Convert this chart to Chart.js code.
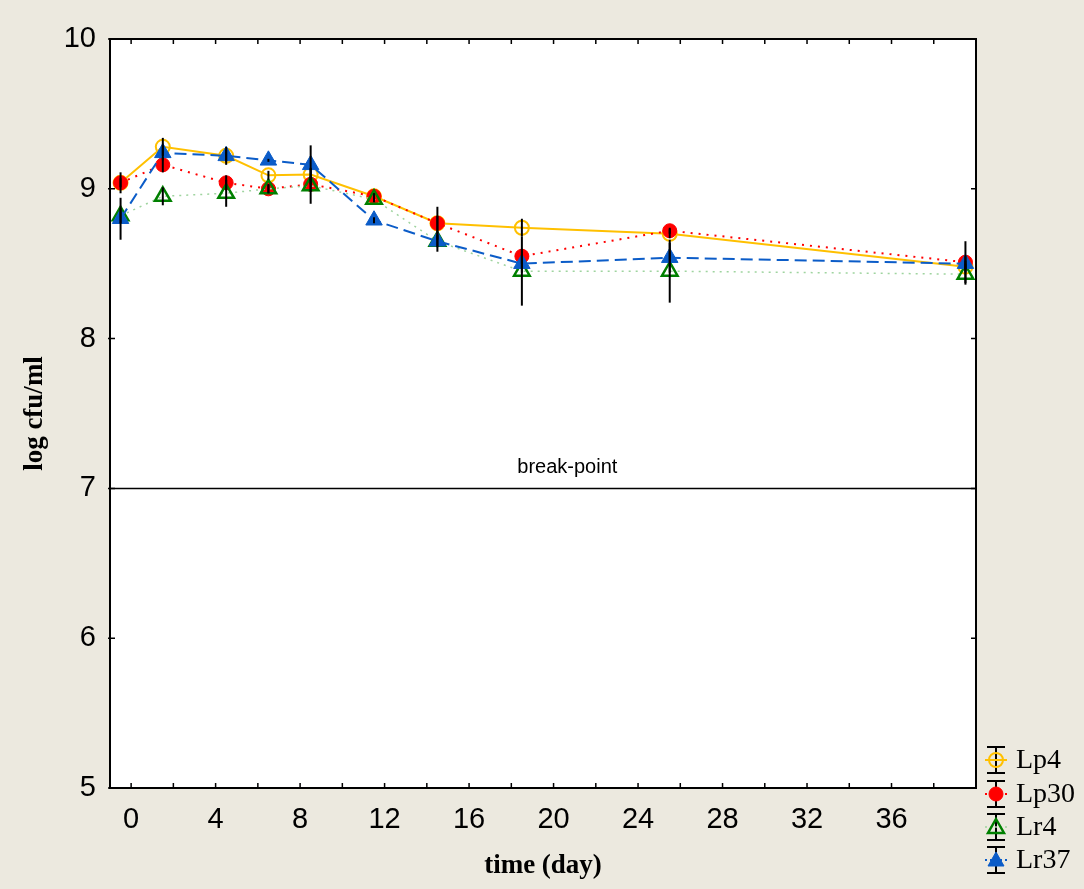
<!DOCTYPE html>
<html>
<head>
<meta charset="utf-8">
<script src="https://cdn.jsdelivr.net/npm/chart.js@4"></script>
<style>
  html, body { margin: 0; padding: 0; background: #ece9df; }
  #wrap { width: 1084px; height: 889px; position: relative; }
</style>
</head>
<body>
<div id="wrap"><canvas id="chart" width="1084" height="889"></canvas></div>
<script>
// data
const days = [-0.5, 1.5, 4.5, 6.5, 8.5, 11.5, 14.5, 18.5, 25.5, 39.5];
const lp4 = [9.04, 9.28, 9.22, 9.09, 9.095, 8.95, 8.77, 8.74, 8.70, 8.48];
const lp30 = [9.04, 9.16, 9.04, 9.00, 9.03, 8.95, 8.77, 8.55, 8.72, 8.51];
const lr4 = [8.82, 8.95, 8.97, 9.00, 9.02, 8.93, 8.65, 8.45, 8.45, 8.43];
const lr37 = [8.80, 9.24, 9.22, 9.19, 9.16, 8.79, 8.65, 8.50, 8.54, 8.50];

const errLp4 = [0.03, 0.06, 0.04, 0.03, 0.04, 0.02, 0.05, 0.06, 0.03, 0.04];
const errLp30 = [0.07, 0.05, 0.05, 0.03, 0.05, 0.02, 0.11, 0.05, 0.02, 0.14];
const errLr4 = [0.05, 0.06, 0.09, 0.03, 0.12, 0.02, 0.04, 0.23, 0.21, 0.07];
const errLr37 = [0.14, 0.05, 0.06, 0.01, 0.13, 0.02, 0.07, 0.06, 0.10, 0.05];

const xTicks = [0, 4, 8, 12, 16, 20, 24, 28, 32, 36];
const xMinor = [0, 2, 4, 6, 8, 10, 12, 14, 16, 18, 20, 22, 24, 26, 28, 30, 32, 34, 36, 38];
const yTicks = [5, 6, 7, 8, 9, 10];
const breakPoint = 7;

const pts = (ys) => days.map((d, i) => ({ x: d, y: ys[i] }));

const seriesDefs = [
    { label: 'Lp4', data: lp4, err: errLp4, line: '#ffc000', mark: '#ffc000', fill: 'rgba(0,0,0,0)', style: 'circle', r: 7, dash: [], width: 2, order: 4, bw: 2 },
    { label: 'Lp30', data: lp30, err: errLp30, line: '#ff0000', mark: '#ff0000', fill: '#ff0000', style: 'circle', r: 7, dash: [2, 6], width: 2, order: 3, bw: 1 },
    { label: 'Lr4', data: lr4, err: errLr4, line: '#9fd49f', mark: '#008000', fill: 'rgba(0,0,0,0)', style: 'triangle', r: 9, dash: [2, 5], width: 1.5, order: 2, bw: 2.5 },
    { label: 'Lr37', data: lr37, err: errLr37, line: '#0b5cc8', mark: '#0b5cc8', fill: '#0b5cc8', style: 'triangle', r: 9.5, dash: [12, 6], width: 2, order: 1, bw: 1 }
];

const datasets = seriesDefs.map(s => ({
    label: s.label,
    data: pts(s.data),
    borderColor: s.line,
    borderWidth: s.width,
    borderDash: s.dash,
    pointStyle: s.style,
    pointRadius: s.r,
    pointBorderColor: s.mark,
    pointBackgroundColor: s.fill,
    pointBorderWidth: s.bw,
    order: s.order,
    tension: 0
}));

datasets.push({
    label: 'break-point',
    data: [{ x: -1, y: breakPoint }, { x: 40, y: breakPoint }],
    borderColor: '#000',
    borderWidth: 1.5,
    pointRadius: 0,
    order: 10
});

const decor = {
    id: 'decor',
    beforeDraw(chart) {
        const { ctx, chartArea: a } = chart;
        ctx.save();
        ctx.fillStyle = '#ece9df';
        ctx.fillRect(0, 0, chart.width, chart.height);
        ctx.fillStyle = '#fff';
        ctx.fillRect(a.left, a.top, a.right - a.left, a.bottom - a.top);
        ctx.restore();
    },
    afterDatasetsDraw(chart) {
        const { ctx, chartArea: a, scales: { x, y } } = chart;
        ctx.save();
        // error bars
        ctx.strokeStyle = '#000';
        ctx.lineWidth = 2;
        seriesDefs.forEach(s => {
            days.forEach((d, i) => {
                const px = x.getPixelForValue(d);
                ctx.beginPath();
                ctx.moveTo(px, y.getPixelForValue(s.data[i] + s.err[i]));
                ctx.lineTo(px, y.getPixelForValue(s.data[i] - s.err[i]));
                ctx.stroke();
            });
        });
        // break-point label
        ctx.fillStyle = '#000';
        ctx.font = '20px "Liberation Sans", Arial, sans-serif';
        ctx.textAlign = 'center';
        ctx.textBaseline = 'middle';
        ctx.fillText('break-point', x.getPixelForValue(20.65), y.getPixelForValue(breakPoint) - 21);
        // frame
        ctx.lineWidth = 2;
        ctx.strokeRect(a.left, a.top, a.right - a.left, a.bottom - a.top);
        // inward ticks
        ctx.lineWidth = 1.5;
        ctx.beginPath();
        xMinor.forEach(v => {
            const px = x.getPixelForValue(v);
            ctx.moveTo(px, a.bottom); ctx.lineTo(px, a.bottom - 5);
            ctx.moveTo(px, a.top); ctx.lineTo(px, a.top + 5);
        });
        yTicks.forEach(v => {
            const py = y.getPixelForValue(v);
            ctx.moveTo(a.left - 2, py); ctx.lineTo(a.left + 5, py);
            ctx.moveTo(a.right, py); ctx.lineTo(a.right - 5, py);
        });
        ctx.stroke();
        // axis titles
        ctx.font = 'bold 27px "Liberation Serif", "Times New Roman", serif';
        ctx.fillText('time (day)', (a.left + a.right) / 2, 866);
        ctx.save();
        ctx.translate(35, (a.top + a.bottom) / 2);
        ctx.rotate(-Math.PI / 2);
        ctx.fillText('log cfu/ml', 0, 0);
        ctx.restore();
        // legend
        const rowY = [760, 794, 827, 860];
        const cx = 996;
        seriesDefs.forEach((s, i) => {
            const cy = rowY[i];
            ctx.strokeStyle = '#000';
            ctx.lineWidth = 2;
            ctx.setLineDash([]);
            ctx.beginPath();
            ctx.moveTo(cx, cy - 13); ctx.lineTo(cx, cy + 13);
            ctx.moveTo(cx - 9, cy - 13); ctx.lineTo(cx + 9, cy - 13);
            ctx.moveTo(cx - 9, cy + 13); ctx.lineTo(cx + 9, cy + 13);
            ctx.stroke();
            ctx.strokeStyle = s.line;
            ctx.lineWidth = s.width;
            ctx.setLineDash(s.dash.length ? [2, 3] : []);
            ctx.beginPath();
            ctx.moveTo(cx - 11, cy); ctx.lineTo(cx + 11, cy);
            ctx.stroke();
            ctx.setLineDash([]);
            ctx.fillStyle = s.fill;
            ctx.strokeStyle = s.mark;
            ctx.lineWidth = s.bw;
            ctx.beginPath();
            if (s.style === 'circle') {
                ctx.arc(cx, cy, 7, 0, Math.PI * 2);
            } else {
                ctx.moveTo(cx, cy - 8); ctx.lineTo(cx + 8, cy + 6); ctx.lineTo(cx - 8, cy + 6); ctx.closePath();
            }
            ctx.fill();
            ctx.stroke();
            ctx.fillStyle = '#000';
            ctx.textAlign = 'left';
            ctx.font = '28px "Liberation Serif", "Times New Roman", serif';
            ctx.fillText(s.label, 1016, cy + 1);
            ctx.textAlign = 'center';
        });
        ctx.restore();
    }
};

new Chart(document.getElementById('chart'), {
    type: 'line',
    data: { datasets },
    plugins: [decor],
    options: {
        responsive: false,
        animation: false,
        layout: { padding: { top: 39, right: 108, left: 0, bottom: 0 } },
        plugins: { legend: { display: false }, tooltip: { enabled: false } },
        scales: {
            x: {
                type: 'linear', min: -1, max: 40,
                afterBuildTicks: s => { s.ticks = xTicks.map(v => ({ value: v })); },
                afterFit: s => { s.height = 101; },
                grid: { display: false, drawTicks: false },
                border: { display: false },
                ticks: { color: '#000', padding: 15, maxRotation: 0, autoSkip: false, font: { family: '"Liberation Sans", Arial, sans-serif', size: 29 } }
            },
            y: {
                min: 5, max: 10,
                afterBuildTicks: s => { s.ticks = yTicks.map(v => ({ value: v })); },
                afterFit: s => { s.width = 110; },
                grid: { display: false, drawTicks: false },
                border: { display: false },
                ticks: { color: '#000', padding: 14, font: { family: '"Liberation Sans", Arial, sans-serif', size: 29 } }
            }
        }
    }
});
</script>
</body>
</html>
